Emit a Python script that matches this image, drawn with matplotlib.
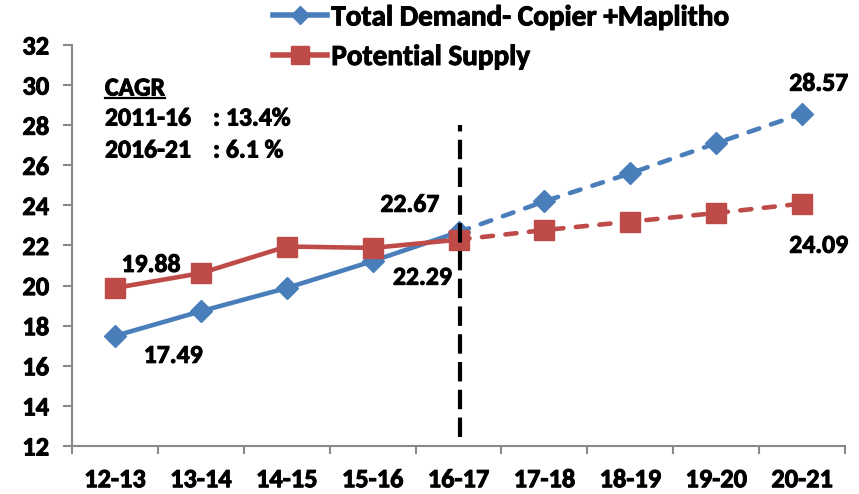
import matplotlib
matplotlib.use("Agg")
import matplotlib.pyplot as plt
from matplotlib.lines import Line2D
import matplotlib.patheffects as pe

plt.rcParams['font.family'] = ['Carlito', 'DejaVu Sans']
plt.rcParams['font.weight'] = 'bold'
plt.rcParams['lines.scale_dashes'] = False

categories = ["12-13", "13-14", "14-15", "15-16", "16-17", "17-18", "18-19", "19-20", "20-21"]
demand = [17.49, 18.72, 19.88, 21.22, 22.67, 24.2, 25.6, 27.1, 28.57]
supply = [19.88, 20.62, 21.95, 21.88, 22.29, 22.77, 23.19, 23.62, 24.09]
split_idx = 4  # 16-17: actual -> projected
demand_label = "Total Demand- Copier +Maplitho"
supply_label = "Potential Supply"
cagr_rows = [("2011-16", ": 13.4%"), ("2016-21", ": 6.1 %")]
yticks = [12, 14, 16, 18, 20, 22, 24, 26, 28, 30, 32]

BLUE = "#4A7EBB"
RED = "#BE4B48"
GRAY = "#898989"
heavy = [pe.withStroke(linewidth=0.7, foreground='black')]

fig = plt.figure(figsize=(8.59, 4.94), dpi=100)
ax = fig.add_axes([72/859, 1-446/494, (845-72)/859, (446-45)/494])

x = list(range(len(categories)))
lw = 3.3
dash = (8, 9)

ax.plot(x[:split_idx+1], demand[:split_idx+1], color=BLUE, lw=lw, solid_capstyle='round', zorder=3)
ax.plot(x[:split_idx+1], supply[:split_idx+1], color=RED, lw=lw, solid_capstyle='round', zorder=3)
ax.plot(x[split_idx:], demand[split_idx:], color=BLUE, lw=lw, dashes=dash, dash_capstyle='round', zorder=3)
ax.plot(x[split_idx:], supply[split_idx:], color=RED, lw=lw, dashes=dash, dash_capstyle='round', zorder=3)
ax.plot(x, demand, ls='none', marker='D', ms=11, color=BLUE, mec=BLUE, zorder=4)
ax.plot(x, supply, ls='none', marker='s', ms=14, color=RED, mec=RED, zorder=4)

ax.plot([split_idx + 0.02, split_idx + 0.02], [12.45, 28.0], color='black', lw=3, dashes=(14, 6), zorder=5)

ax.set_xlim(-0.5, len(categories) - 0.5)
ax.set_ylim(12, 32)
ax.set_yticks(yticks)
ax.set_xticks(x)
ax.set_xticklabels(categories)
ax.set_xticks([i - 0.5 for i in range(len(categories) + 1)], minor=True)
ax.tick_params(axis='x', which='major', length=0, pad=16, labelsize=19)
ax.tick_params(axis='x', which='minor', length=6, width=1.5, color=GRAY, direction='out')
ax.tick_params(axis='y', length=6.5, width=1.5, color=GRAY, pad=10, labelsize=19)
for lab in ax.get_xticklabels() + ax.get_yticklabels():
    lab.set_fontweight('bold')
    lab.set_path_effects(heavy)

for s in ['top', 'right']:
    ax.spines[s].set_visible(False)
for s in ['left', 'bottom']:
    ax.spines[s].set_color(GRAY)
    ax.spines[s].set_linewidth(1.5)

lab_fs = 18.5
def lab(i, vals, dx, dy):
    ax.annotate(f"{vals[i]:.2f}", (x[i], vals[i]), xytext=(dx, dy), textcoords='offset points',
                ha='center', va='center', fontsize=lab_fs, fontweight='bold', path_effects=heavy)
lab(0, supply, 26, 17)
lab(0, demand, 42, -14)
lab(split_idx, demand, -35, 20)
lab(split_idx, supply, -26, -27)
lab(len(x)-1, demand, 12, 22)
lab(len(x)-1, supply, 12, -30)

fs_c = 18.5
t = fig.text(105/859, 1-88/494, "CAGR", fontsize=fs_c, fontweight='bold', ha='left', va='center', path_effects=heavy)
fig.canvas.draw()
bb = t.get_window_extent()
fig.add_artist(Line2D([bb.x0/859, bb.x1/859], [1-98/494, 1-98/494], color='black', lw=1.6))
for k, (period, val) in enumerate(cagr_rows):
    yy = 1 - (118 + 32*k)/494
    fig.text(105/859, yy, period, fontsize=fs_c, fontweight='bold', ha='left', va='center', path_effects=heavy)
    fig.text(213/859, yy, val, fontsize=fs_c, fontweight='bold', ha='left', va='center', path_effects=heavy)

h1 = Line2D([], [], color=BLUE, lw=4, marker='D', ms=9, mec=BLUE)
h2 = Line2D([], [], color=RED, lw=4, marker='s', ms=13, mec=RED)
leg = fig.legend([h1, h2], [demand_label, supply_label], loc='upper left',
                 bbox_to_anchor=(273/859, 1 - 5/494), frameon=False, fontsize=21,
                 handlelength=1.85, handletextpad=0.15, labelspacing=0.52, borderpad=0.0,
                 borderaxespad=0.0)
for txt in leg.get_texts():
    txt.set_fontweight('bold')
    txt.set_path_effects(heavy)

fig.savefig("out.png", dpi=100)
